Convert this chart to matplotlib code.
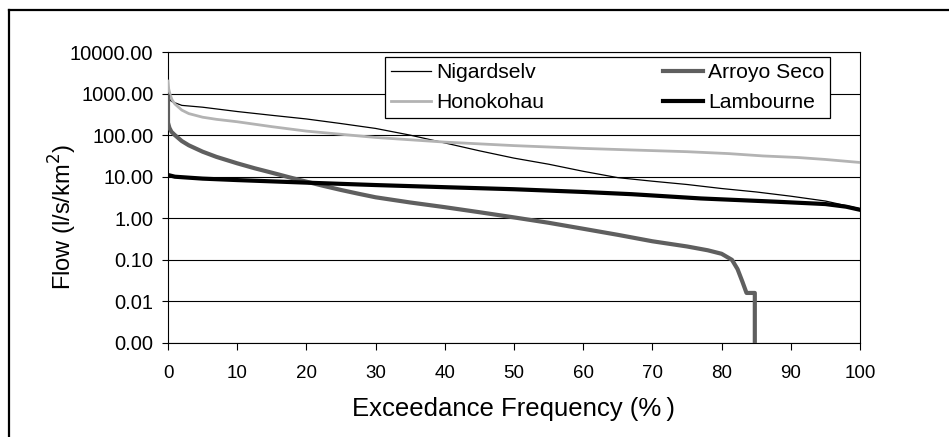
import matplotlib
matplotlib.use("Agg")
from matplotlib import pyplot as plt
from matplotlib.lines import Line2D
from matplotlib.ticker import FixedLocator, FuncFormatter

plt.rcParams['font.family'] = ['Liberation Sans', 'DejaVu Sans']

# flow duration curves (exceedance %, flow l/s/km2)
nig_x = [0, 0.5, 1, 2, 5, 10, 15, 20, 25, 30, 35, 40, 45, 50, 55, 60, 65, 70, 75, 80, 85, 90, 95, 100]
nig_y = [800, 650, 600, 520, 470, 370, 300, 245, 190, 145, 100, 65, 42, 28, 20, 13.5, 9.5, 7.8, 6.5, 5.2, 4.3, 3.4, 2.6, 1.7]

hon_x = [0, 0.1, 0.3, 0.6, 1, 2, 3, 5, 7, 10, 15, 20, 30, 40, 50, 60, 67, 75, 81, 86, 91, 95, 100]
hon_y = [2000, 1300, 950, 700, 560, 400, 330, 270, 240, 210, 160, 125, 88, 68, 56, 48, 44, 40, 36, 31.6, 29, 26, 22]

arr_x = [0, 0, 0.2, 0.5, 1, 2, 3, 5, 7, 10, 12.5, 15, 17.5, 20, 22.5, 25, 27.5, 30, 35, 40, 45, 50, 55, 60,
         65, 70, 75, 78, 80, 81.5, 82.3, 83, 83.6, 84.8, 84.8]
arr_y = [850, 200, 150, 120, 100, 72, 57, 40, 30, 21, 16, 12.5, 9.7, 7.6, 6.0, 4.8, 3.9, 3.2, 2.4, 1.85,
         1.4, 1.05, 0.78, 0.56, 0.4, 0.28, 0.21, 0.17, 0.14, 0.1, 0.06, 0.03, 0.016, 0.016, 0.001]

lam_x = [0, 1, 5, 10, 20, 30, 40, 50, 60, 67, 77, 88, 95, 98, 100]
lam_y = [11, 10, 9, 8.3, 7.2, 6.3, 5.6, 5.0, 4.3, 3.8, 3.0, 2.5, 2.2, 1.9, 1.6]

y_ticks = [0.001, 0.01, 0.1, 1, 10, 100, 1000, 10000]
x_ticks = list(range(0, 101, 10))

fig = plt.figure(figsize=(9.49, 4.37), dpi=100)
ax = fig.add_axes([168 / 949, 1 - 343 / 437, 692 / 949, 291 / 437])

ax.plot(nig_x, nig_y, color='black', lw=0.9, label='Nigardselv', zorder=3)
ax.plot(hon_x, hon_y, color='#b3b3b3', lw=2.0, label='Honokohau', zorder=3)
ax.plot(arr_x, arr_y, color='#5f5f5f', lw=3.0, label='Arroyo Seco', zorder=3)
ax.plot(lam_x, lam_y, color='black', lw=3.0, label='Lambourne', zorder=3)

ax.set_yscale('log')
ax.set_ylim(0.001, 10000)
ax.set_xlim(0, 100)
ax.yaxis.set_major_locator(FixedLocator(y_ticks))
ax.yaxis.set_minor_locator(FixedLocator([]))
ax.yaxis.set_major_formatter(FuncFormatter(lambda v, p: f"{v:.2f}"))
ax.set_xticks(x_ticks)

ax.grid(axis='y', color='black', lw=0.8, zorder=1)
ax.set_axisbelow(True)
for s in ax.spines.values():
    s.set_color('black')
    s.set_linewidth(0.8)

ax.tick_params(axis='y', direction='out', length=4.5, width=0.8, pad=6, labelsize=14.5)
ax.tick_params(axis='x', direction='out', length=5, width=0.8, pad=11, labelsize=13.5)

ax.set_xlabel('Exceedance Frequency (%\u2009)', fontsize=18.5, labelpad=10.5)
ax.set_ylabel('Flow (l/s/km$^2$)', fontsize=17)
ax.yaxis.set_label_coords(-0.129, 0.433)

leg = ax.legend(ncol=2, loc='upper left', bbox_to_anchor=(385 / 949, 1 - 57 / 437),
                bbox_transform=fig.transFigure, borderaxespad=0, fontsize=15.2,
                handlelength=1.9, handletextpad=0.24, columnspacing=5.6,
                labelspacing=0.5, borderpad=0.3, fancybox=False, framealpha=1)
leg.get_frame().set_edgecolor('black')
leg.get_frame().set_linewidth(0.9)

# outer chart frame (top and left edges visible)
fig.add_artist(Line2D([9 / 949, 1], [1 - 10 / 437, 1 - 10 / 437], color='black', lw=1.6))
fig.add_artist(Line2D([9 / 949, 9 / 949], [0, 1 - 10 / 437], color='black', lw=1.6))

fig.savefig('out.png', dpi=100)
